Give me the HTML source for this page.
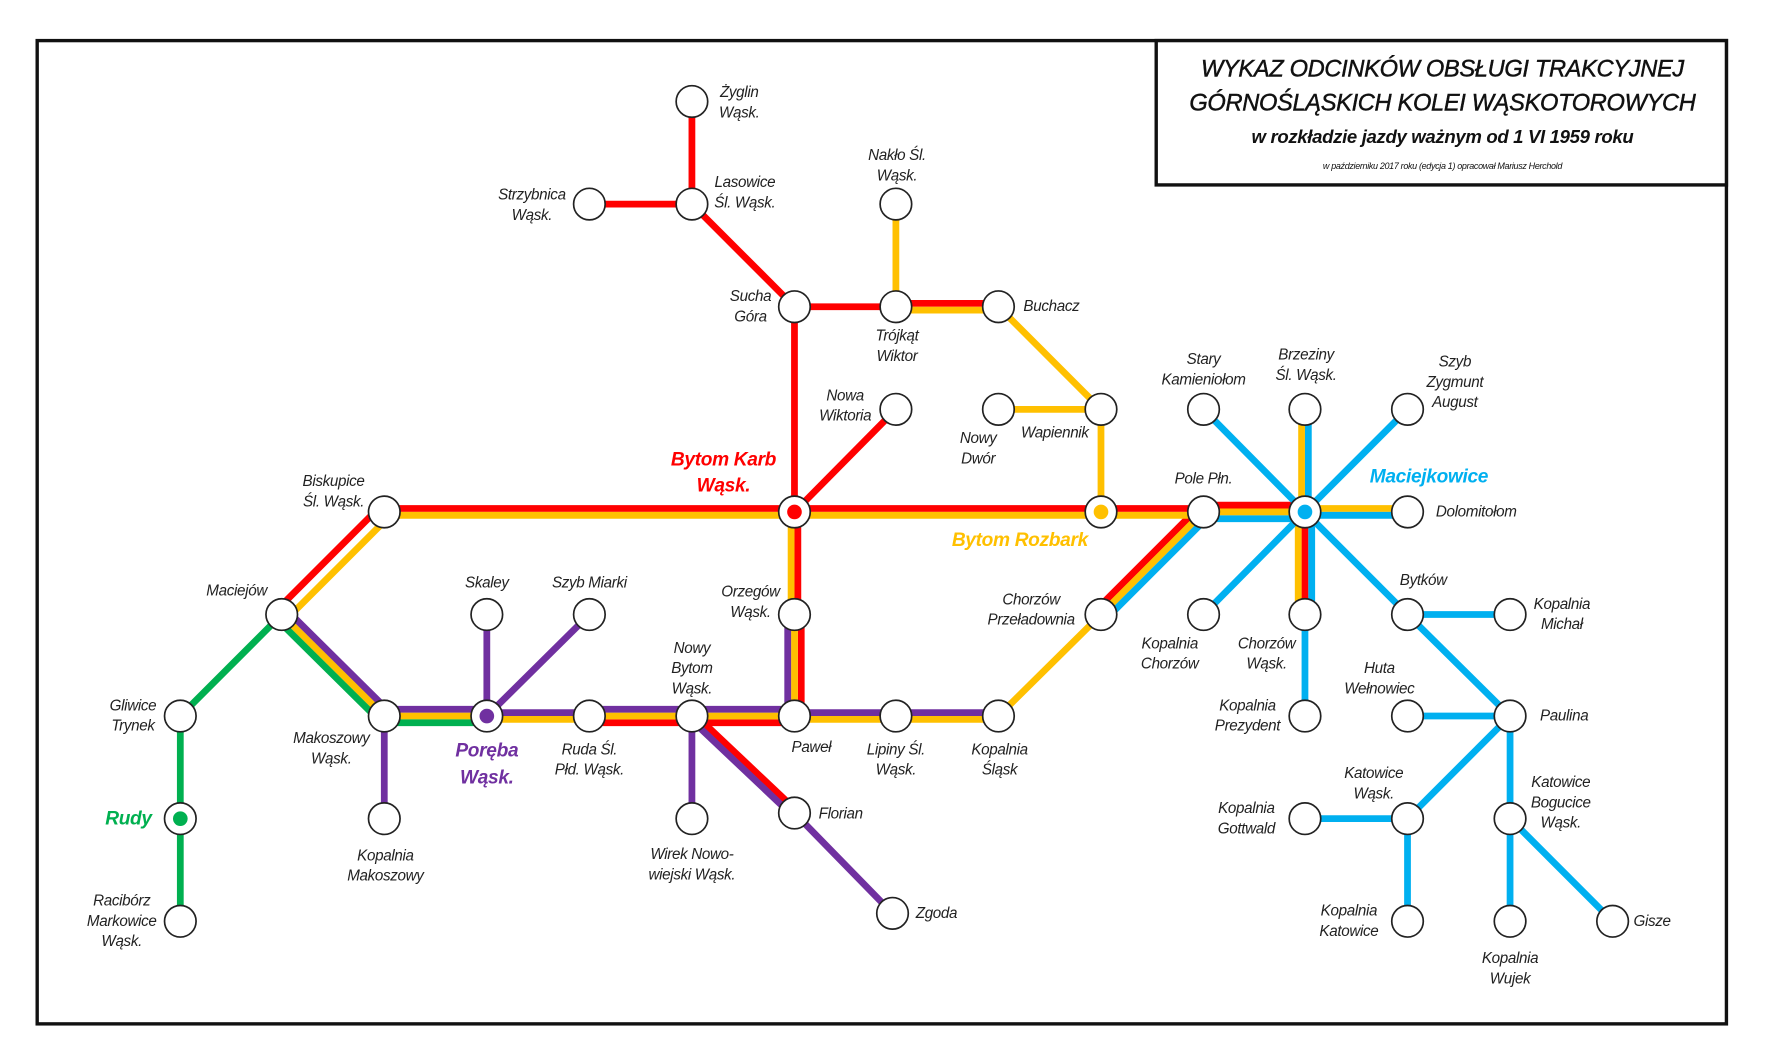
<!DOCTYPE html>
<html><head><meta charset="utf-8"><style>
html,body{margin:0;padding:0;background:#fff;}
svg{display:block;}
text{font-family:"Liberation Sans",sans-serif;font-style:italic;font-size:13.5px;fill:#222;text-anchor:middle;letter-spacing:-0.3px;}
.big{font-size:17px;font-weight:bold;}
</style></head><body>
<svg width="1767" height="1063" viewBox="0 0 1568 942.7" preserveAspectRatio="none" xmlns="http://www.w3.org/2000/svg">
<rect x="0" y="0" width="1568" height="942.7" fill="#fff"/>
<rect x="33" y="36" width="1499" height="872" fill="none" stroke="#111" stroke-width="3"/>
<rect x="1026" y="36" width="506" height="128" fill="#fff" stroke="#111" stroke-width="3"/>
<text x="1280" y="68" style="font-size:21px;fill:#111;stroke:#111;stroke-width:0.4">WYKAZ ODCINKÓW OBSŁUGI TRAKCYJNEJ</text>
<text x="1280" y="98" style="font-size:21px;fill:#111;stroke:#111;stroke-width:0.4">GÓRNOŚLĄSKICH KOLEI WĄSKOTOROWYCH</text>
<text x="1280" y="127" style="font-size:16.5px;font-weight:bold;fill:#111">w rozkładzie jazdy ważnym od 1 VI 1959 roku</text>
<text x="1280" y="150" style="font-size:8px;fill:#111">w październiku 2017 roku (edycja 1) opracował Mariusz Herchold</text>

<g stroke-width="6" fill="none" stroke-linecap="butt">
<g stroke="#f00">
<line x1="614" y1="90" x2="614" y2="181"/>
<line x1="523" y1="181" x2="614" y2="181"/>
<line x1="614" y1="181" x2="705" y2="272"/>
<line x1="705" y1="272" x2="795" y2="272"/>
<line x1="795" y1="269" x2="886" y2="269"/>
<line x1="705" y1="272" x2="705" y2="454"/>
<line x1="795" y1="363" x2="705" y2="454"/>
<line x1="341" y1="451" x2="1068" y2="451"/>
<line x1="1068" y1="448" x2="1158" y2="448"/>
<line x1="245.8" y1="540.8" x2="336.8" y2="449.8"/>
<line x1="972.8" y1="540.8" x2="1063.8" y2="449.8"/>
<line x1="708" y1="454" x2="708" y2="545"/>
<line x1="711" y1="545" x2="711" y2="635"/>
<line x1="523" y1="641" x2="705" y2="641"/>
<line x1="616" y1="633" x2="707" y2="719"/>
<line x1="1158" y1="454" x2="1158" y2="545"/>
</g>
<g stroke="#ffc000">
<line x1="795" y1="181" x2="795" y2="272"/>
<line x1="795" y1="275" x2="886" y2="275"/>
<line x1="886" y1="272" x2="977" y2="363"/>
<line x1="886" y1="363" x2="977" y2="363"/>
<line x1="977" y1="363" x2="977" y2="454"/>
<line x1="341" y1="457" x2="1068" y2="457"/>
<line x1="1068" y1="454" x2="1158" y2="454"/>
<line x1="1158" y1="451" x2="1249" y2="451"/>
<line x1="254.2" y1="549.2" x2="345.2" y2="458.2"/>
<line x1="977" y1="545" x2="1068" y2="454"/>
<line x1="886" y1="635" x2="977" y2="545"/>
<line x1="702" y1="454" x2="702" y2="545"/>
<line x1="705" y1="545" x2="705" y2="635"/>
<line x1="250" y1="545" x2="341" y2="635"/>
<line x1="341" y1="635" x2="432" y2="635"/>
<line x1="432" y1="638" x2="523" y2="638"/>
<line x1="523" y1="635" x2="705" y2="635"/>
<line x1="705" y1="638" x2="886" y2="638"/>
<line x1="1152" y1="454" x2="1152" y2="545"/>
<line x1="1155" y1="363" x2="1155" y2="454"/>
</g>
<g stroke="#7030a0">
<line x1="254.2" y1="540.8" x2="345.2" y2="630.8"/>
<line x1="341" y1="629" x2="432" y2="629"/>
<line x1="432" y1="632" x2="523" y2="632"/>
<line x1="523" y1="629" x2="705" y2="629"/>
<line x1="705" y1="632" x2="886" y2="632"/>
<line x1="699" y1="545" x2="699" y2="635"/>
<line x1="341" y1="635" x2="341" y2="726"/>
<line x1="432" y1="545" x2="432" y2="635"/>
<line x1="523" y1="545" x2="432" y2="635"/>
<line x1="614" y1="635" x2="614" y2="726"/>
<line x1="612" y1="637" x2="703" y2="723"/>
<line x1="705" y1="721" x2="792" y2="810"/>
</g>
<g stroke="#00b050">
<line x1="245.8" y1="549.2" x2="336.8" y2="639.2"/>
<line x1="341" y1="641" x2="432" y2="641"/>
<line x1="250" y1="545" x2="160" y2="635"/>
<line x1="160" y1="635" x2="160" y2="817"/>
</g>
<g stroke="#00b0f0">
<line x1="981.2" y1="549.2" x2="1072.2" y2="458.2"/>
<line x1="1068" y1="460" x2="1158" y2="460"/>
<line x1="1158" y1="457" x2="1249" y2="457"/>
<line x1="1161" y1="363" x2="1161" y2="454"/>
<line x1="1164" y1="454" x2="1164" y2="545"/>
<line x1="1158" y1="545" x2="1158" y2="635"/>
<line x1="1068" y1="363" x2="1158" y2="454"/>
<line x1="1249" y1="363" x2="1158" y2="454"/>
<line x1="1068" y1="545" x2="1158" y2="454"/>
<line x1="1249" y1="545" x2="1158" y2="454"/>
<line x1="1249" y1="545" x2="1340" y2="545"/>
<line x1="1249" y1="545" x2="1340" y2="635"/>
<line x1="1249" y1="635" x2="1340" y2="635"/>
<line x1="1340" y1="635" x2="1249" y2="726"/>
<line x1="1340" y1="635" x2="1340" y2="817"/>
<line x1="1158" y1="726" x2="1249" y2="726"/>
<line x1="1249" y1="726" x2="1249" y2="817"/>
<line x1="1340" y1="726" x2="1431" y2="817"/>
</g>
</g>

<g fill="#fff" stroke="#222" stroke-width="1.5">
<circle cx="614" cy="90" r="14"/><circle cx="614" cy="181" r="14"/><circle cx="523" cy="181" r="14"/>
<circle cx="705" cy="272" r="14"/><circle cx="795" cy="272" r="14"/><circle cx="795" cy="181" r="14"/>
<circle cx="886" cy="272" r="14"/><circle cx="795" cy="363" r="14"/><circle cx="886" cy="363" r="14"/>
<circle cx="977" cy="363" r="14"/><circle cx="705" cy="454" r="14"/><circle cx="977" cy="454" r="14"/>
<circle cx="1068" cy="454" r="14"/><circle cx="1158" cy="454" r="14"/><circle cx="1068" cy="363" r="14"/>
<circle cx="1158" cy="363" r="14"/><circle cx="1249" cy="363" r="14"/><circle cx="1249" cy="454" r="14"/>
<circle cx="341" cy="454" r="14"/><circle cx="250" cy="545" r="14"/><circle cx="160" cy="635" r="14"/>
<circle cx="160" cy="726" r="14"/><circle cx="160" cy="817" r="14"/><circle cx="341" cy="635" r="14"/>
<circle cx="341" cy="726" r="14"/><circle cx="432" cy="635" r="14"/><circle cx="432" cy="545" r="14"/>
<circle cx="523" cy="545" r="14"/><circle cx="523" cy="635" r="14"/><circle cx="614" cy="635" r="14"/>
<circle cx="614" cy="726" r="14"/><circle cx="705" cy="721" r="14"/><circle cx="792" cy="810" r="14"/>
<circle cx="705" cy="635" r="14"/><circle cx="705" cy="545" r="14"/><circle cx="795" cy="635" r="14"/>
<circle cx="886" cy="635" r="14"/><circle cx="977" cy="545" r="14"/><circle cx="1068" cy="545" r="14"/>
<circle cx="1158" cy="545" r="14"/><circle cx="1158" cy="635" r="14"/><circle cx="1249" cy="545" r="14"/>
<circle cx="1340" cy="545" r="14"/><circle cx="1249" cy="635" r="14"/><circle cx="1340" cy="635" r="14"/>
<circle cx="1249" cy="726" r="14"/><circle cx="1158" cy="726" r="14"/><circle cx="1249" cy="817" r="14"/>
<circle cx="1340" cy="726" r="14"/><circle cx="1340" cy="817" r="14"/><circle cx="1431" cy="817" r="14"/>
</g>
<circle cx="705" cy="454" r="6.5" fill="#f00"/>
<circle cx="977" cy="454" r="6.5" fill="#ffc000"/>
<circle cx="1158" cy="454" r="6.5" fill="#00b0f0"/>
<circle cx="160" cy="726" r="6.5" fill="#00b050"/>
<circle cx="432" cy="635" r="6.5" fill="#7030a0"/>

<text x="656" y="86">Żyglin</text><text x="656" y="104">Wąsk.</text>
<text x="472" y="177">Strzybnica</text><text x="472" y="195">Wąsk.</text>
<text x="661" y="166">Lasowice</text><text x="661" y="184">Śl. Wąsk.</text>
<text x="796" y="142">Nakło Śl.</text><text x="796" y="160">Wąsk.</text>
<text x="666" y="267">Sucha</text><text x="666" y="285">Góra</text>
<text x="933" y="276">Buchacz</text>
<text x="796" y="302">Trójkąt</text><text x="796" y="320">Wiktor</text>
<text x="750" y="355">Nowa</text><text x="750" y="373">Wiktoria</text>
<text x="868" y="393">Nowy</text><text x="868" y="411">Dwór</text>
<text x="936" y="388">Wapiennik</text>
<text x="1068" y="323">Stary</text><text x="1068" y="341">Kamieniołom</text>
<text x="1159" y="319">Brzeziny</text><text x="1159" y="337">Śl. Wąsk.</text>
<text x="1291" y="325">Szyb</text><text x="1291" y="343">Zygmunt</text><text x="1291" y="361">August</text>
<text x="1268" y="428" class="big" style="fill:#00b0f0">Maciejkowice</text>
<text x="1310" y="458">Dolomitołom</text>
<text x="1068" y="429">Pole Płn.</text>
<text x="642" y="413" class="big" style="fill:#f00">Bytom Karb</text><text x="642" y="436" class="big" style="fill:#f00">Wąsk.</text>
<text x="905" y="484" class="big" style="fill:#ffc000">Bytom Rozbark</text>
<text x="296" y="431">Biskupice</text><text x="296" y="449">Śl. Wąsk.</text>
<text x="210" y="528">Maciejów</text>
<text x="432" y="521">Skaley</text><text x="523" y="521">Szyb Miarki</text>
<text x="666" y="529">Orzegów</text><text x="666" y="547">Wąsk.</text>
<text x="915" y="536">Chorzów</text><text x="915" y="554">Przeładownia</text>
<text x="1038" y="575">Kopalnia</text><text x="1038" y="593">Chorzów</text>
<text x="1124" y="575">Chorzów</text><text x="1124" y="593">Wąsk.</text>
<text x="1263" y="519">Bytków</text>
<text x="1386" y="540">Kopalnia</text><text x="1386" y="558">Michał</text>
<text x="1224" y="597">Huta</text><text x="1224" y="615">Wełnowiec</text>
<text x="1107" y="630">Kopalnia</text><text x="1107" y="648">Prezydent</text>
<text x="1388" y="639">Paulina</text>
<text x="1219" y="690">Katowice</text><text x="1219" y="708">Wąsk.</text>
<text x="1106" y="721">Kopalnia</text><text x="1106" y="739">Gottwald</text>
<text x="1385" y="698">Katowice</text><text x="1385" y="716">Bogucice</text><text x="1385" y="734">Wąsk.</text>
<text x="1197" y="812">Kopalnia</text><text x="1197" y="830">Katowice</text>
<text x="1340" y="854">Kopalnia</text><text x="1340" y="872">Wujek</text>
<text x="1466" y="821">Gisze</text>
<text x="614" y="579">Nowy</text><text x="614" y="597">Bytom</text><text x="614" y="615">Wąsk.</text>
<text x="118" y="630">Gliwice</text><text x="118" y="648">Trynek</text>
<text x="294" y="659">Makoszowy</text><text x="294" y="677">Wąsk.</text>
<text x="432" y="671" class="big" style="fill:#7030a0">Poręba</text><text x="432" y="695" class="big" style="fill:#7030a0">Wąsk.</text>
<text x="523" y="669">Ruda Śl.</text><text x="523" y="687">Płd. Wąsk.</text>
<text x="720" y="667">Paweł</text>
<text x="795" y="669">Lipiny Śl.</text><text x="795" y="687">Wąsk.</text>
<text x="887" y="669">Kopalnia</text><text x="887" y="687">Śląsk</text>
<text x="114" y="731" class="big" style="fill:#00b050">Rudy</text>
<text x="746" y="726">Florian</text>
<text x="342" y="763">Kopalnia</text><text x="342" y="781">Makoszowy</text>
<text x="614" y="762">Wirek Nowo-</text><text x="614" y="780">wiejski Wąsk.</text>
<text x="108" y="803">Racibórz</text><text x="108" y="821">Markowice</text><text x="108" y="839">Wąsk.</text>
<text x="831" y="814">Zgoda</text>
</svg>
</body></html>
